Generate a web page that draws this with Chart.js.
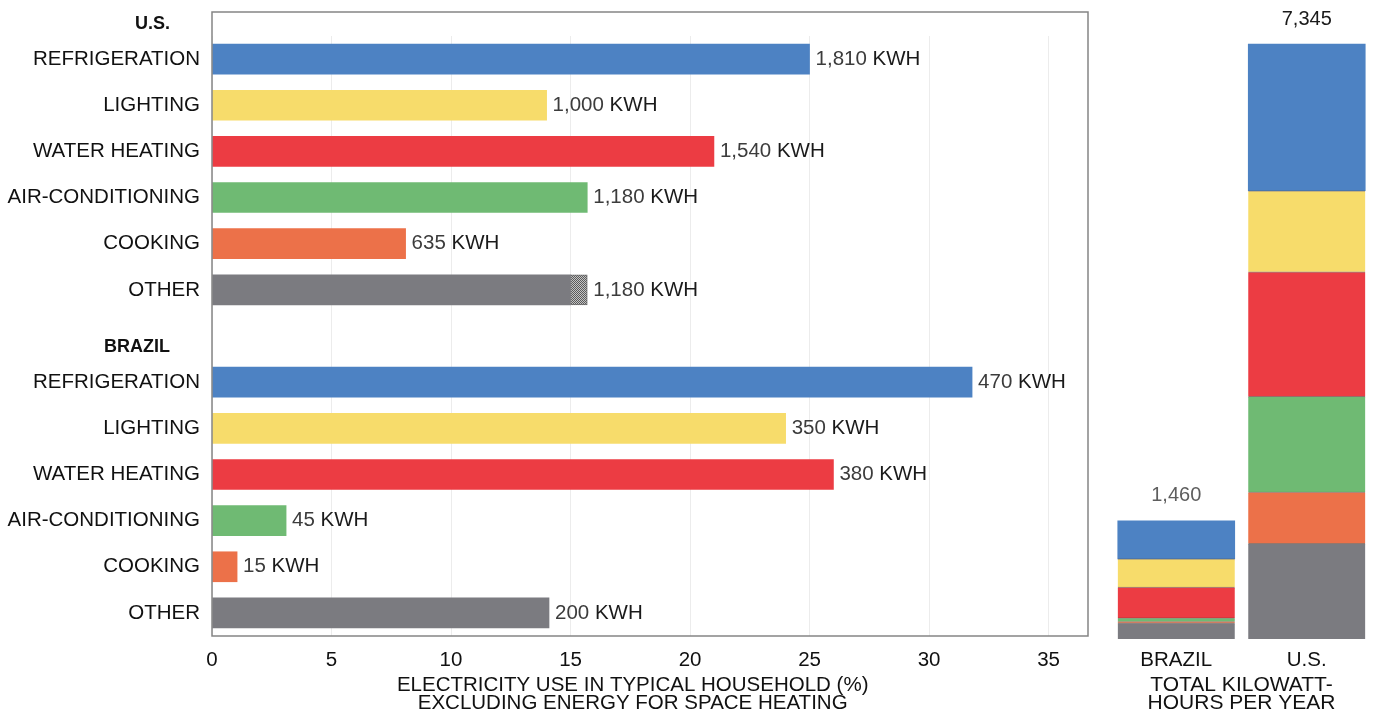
<!DOCTYPE html>
<html>
<head>
<meta charset="utf-8">
<script src="https://cdn.jsdelivr.net/npm/chart.js@4"></script>
<style>
  html, body { margin: 0; padding: 0; background: #fff; }
  #left { position: absolute; left: 0; top: 0; width: 1100px; height: 712px; }
  #right { position: absolute; left: 1100px; top: 0; width: 273px; height: 712px; }
</style>
</head>
<body>
<div id="left"><canvas id="useChart"></canvas></div>
<div id="right"><canvas id="totalChart"></canvas></div>
<script>
// --- data ---
const endUses = ['REFRIGERATION', 'LIGHTING', 'WATER HEATING', 'AIR-CONDITIONING', 'COOKING', 'OTHER'];
const groups = ['U.S.', 'BRAZIL'];
const usPct = [25, 14, 21, 15.7, 8.1, 15];
const usPctHatched = [0, 0, 0, 0, 0, 0.7];   // stippled end of the U.S. "other" bar
const brazilPct = [31.8, 24, 26, 3.1, 1.05, 14.1];
const usKwh = [1810, 1000, 1540, 1180, 635, 1180];
const brazilKwh = [470, 350, 380, 45, 15, 200];
const countries = ['BRAZIL', 'U.S.'];
const countryTotals = [1460, 7345];
const xTitle = ['ELECTRICITY USE IN TYPICAL HOUSEHOLD (%)', 'EXCLUDING ENERGY FOR SPACE HEATING'];
const totalTitle = ['TOTAL KILOWATT-', 'HOURS PER YEAR'];

const colors = ['#4d82c3', '#f7dc6b', '#ec3c43', '#6fba73', '#ec7149', '#7b7b80'];
const FONT = "'Liberation Sans', Arial, Helvetica, sans-serif";

Chart.defaults.font.family = FONT;
Chart.defaults.color = '#111';

function stipple() {
    const c = document.createElement('canvas');
    c.width = 2; c.height = 2;
    const g = c.getContext('2d');
    g.fillStyle = '#c4c4c4';
    g.fillRect(0, 0, 2, 2);
    g.fillStyle = '#5a5a5a';
    g.fillRect(0, 0, 1, 1);
    g.fillRect(1, 1, 1, 1);
    return g.createPattern(c, 'repeat');
}

// rows: 6 U.S. rows, a spacer row, 6 Brazil rows
const rowLabels = [...endUses, '', ...endUses];
const rowKwh = [...usKwh, null, ...brazilKwh];
const headerRows = [0, endUses.length + 1];

const boxPlugin = {
    id: 'box',
    afterDraw(chart) {
        const { ctx, chartArea: a, scales } = chart;
        ctx.save();
        // plot frame, taller than the rows
        ctx.strokeStyle = '#858585';
        ctx.lineWidth = 1.5;
        ctx.strokeRect(a.left, a.top - 24, a.right - a.left, a.bottom - a.top + 24);

        // group headers
        ctx.font = 'bold 18px ' + FONT;
        ctx.fillStyle = '#111';
        ctx.textAlign = 'right';
        ctx.textBaseline = 'middle';
        groups.forEach((g, i) => {
            const y = scales.y.getPixelForValue(headerRows[i]) - 35;
            ctx.fillText(g, a.left - 42, y);
        });

        // axis title, centred on the tick span
        ctx.font = '20.5px ' + FONT;
        ctx.textAlign = 'center';
        const cx = scales.x.getPixelForValue(17.6);
        ctx.fillText(xTitle[0], cx, a.bottom + 49);
        ctx.fillText(xTitle[1], cx, a.bottom + 67);
        ctx.restore();
    }
};

const kwhLabelPlugin = {
    id: 'kwhLabels',
    afterDatasetsDraw(chart) {
        const { ctx } = chart;
        ctx.save();
        ctx.font = '20.5px ' + FONT;
        ctx.textBaseline = 'middle';
        ctx.textAlign = 'left';
        rowKwh.forEach((v, i) => {
            if (v == null) return;
            let end = -Infinity, y = 0;
            chart.data.datasets.forEach((ds, d) => {
                const el = chart.getDatasetMeta(d).data[i];
                if (ds.data[i] > 0 && el.x > end) { end = el.x; y = el.y; }
            });
            const num = v.toLocaleString('en-US');
            const x = end + 6;
            ctx.fillStyle = '#3c3c3c';
            ctx.fillText(num, x, y);
            ctx.fillStyle = '#1a1a1a';
            ctx.fillText(' KWH', x + ctx.measureText(num).width, y);
        });
        ctx.restore();
    }
};

new Chart(document.getElementById('useChart'), {
    type: 'bar',
    data: {
        labels: rowLabels,
        datasets: [
            {
                data: [...usPct, null, ...brazilPct],
                backgroundColor: [...colors, 'transparent', ...colors],
                barThickness: 30,
                borderWidth: 0
            },
            {
                data: [...usPctHatched, null, ...brazilPct.map(() => 0)],
                backgroundColor: stipple(),
                borderColor: '#6a6a6a',
                borderWidth: 1,
                borderSkipped: false,
                barThickness: 30
            }
        ]
    },
    options: {
        indexAxis: 'y',
        responsive: true,
        maintainAspectRatio: false,
        animation: false,
        layout: { padding: { top: 36, right: 12, bottom: 0, left: 0 } },
        plugins: { legend: { display: false }, tooltip: { enabled: false } },
        scales: {
            x: {
                type: 'linear',
                stacked: true,
                min: 0,
                max: 36.65,
                border: { display: false },
                grid: { color: '#ececec', drawTicks: false },
                ticks: { stepSize: 5, includeBounds: false, padding: 12, font: { size: 20.5 }, color: '#111' },
                afterFit: (s) => { s.height = 76; }
            },
            y: {
                type: 'category',
                stacked: true,
                border: { display: false },
                grid: { display: false, drawTicks: false },
                ticks: { autoSkip: false, padding: 12, font: { size: 20.5 }, color: '#111' },
                afterFit: (s) => { s.width = 212; }
            }
        }
    },
    plugins: [boxPlugin, kwhLabelPlugin]
});

// --- right panel: stacked totals ---
const totalsPlugin = {
    id: 'totals',
    afterDatasetsDraw(chart) {
        const { ctx } = chart;
        ctx.save();
        ctx.font = '20px ' + FONT;
        ctx.textAlign = 'center';
        ctx.textBaseline = 'middle';
        const shades = ['#5e5e5e', '#1a1a1a'];
        countries.forEach((c, j) => {
            let top = Infinity, x = 0;
            chart.data.datasets.forEach((ds, d) => {
                const el = chart.getDatasetMeta(d).data[j];
                if (el.y < top) { top = el.y; x = el.x; }
            });
            ctx.fillStyle = shades[j];
            ctx.fillText(countryTotals[j].toLocaleString('en-US'), x, top - 25);
        });
        ctx.restore();
    }
};

const stackSets = [];
for (let k = endUses.length - 1; k >= 0; k--) {
    stackSets.push({
        label: endUses[k],
        data: [brazilKwh[k], usKwh[k]],
        backgroundColor: colors[k],
        borderColor: 'rgba(70, 50, 40, 0.55)',
        borderWidth: k === 0 ? 0 : { top: 1, bottom: 0, left: 0, right: 0 },
        borderSkipped: false,
        barThickness: 117
    });
}

new Chart(document.getElementById('totalChart'), {
    type: 'bar',
    data: { labels: countries, datasets: stackSets },
    options: {
        responsive: true,
        maintainAspectRatio: false,
        animation: false,
        layout: { padding: { top: 0, right: 1, bottom: 0, left: 11 } },
        plugins: { legend: { display: false }, tooltip: { enabled: false } },
        scales: {
            x: {
                stacked: true,
                border: { display: false },
                grid: { display: false, drawTicks: false },
                ticks: { padding: 9, font: { size: 20.5 }, color: '#111' },
                title: {
                    display: true,
                    text: totalTitle,
                    font: { size: 21, lineHeight: '18px' },
                    padding: 0,
                    color: '#111'
                },
                afterFit: (s) => { s.height = 73; }
            },
            y: { stacked: true, display: false, min: 0, max: 7890 }
        }
    },
    plugins: [totalsPlugin]
});
</script>
</body>
</html>
